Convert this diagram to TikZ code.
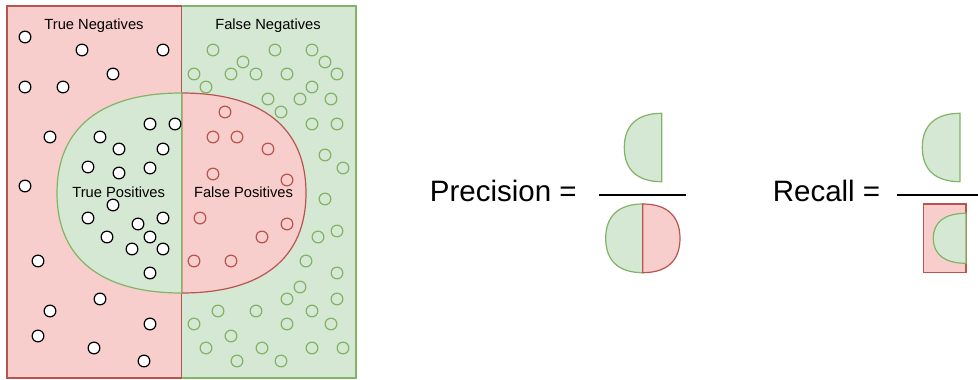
\documentclass[tikz,border=0pt]{standalone}
\usepackage{fontspec}
\setmainfont{Liberation Sans}
\definecolor{rfill}{HTML}{F8CECC}
\definecolor{rline}{HTML}{B85450}
\definecolor{gfill}{HTML}{D5E8D4}
\definecolor{gline}{HTML}{82B366}
% #1 style, #2 flat x, #3 curved x, #4 top y, #5 bottom y
\newcommand{\dshape}[5]{%
  \draw[#1] (#2,#4) .. controls ({#2+0.65*(#3-#2)},#4) and (#3,{#4+0.35*(#5-#4)/2}) .. (#3,{(#4+#5)/2})
    .. controls (#3,{#5-0.35*(#5-#4)/2}) and ({#2+0.65*(#3-#2)},#5) .. (#2,#5) -- cycle;}
\tikzset{
  redarea/.style={fill=rfill, draw=rline, line width=1.2pt},
  greenarea/.style={fill=gfill, draw=gline, line width=1.2pt},
  wdot/.style={circle, draw=black, fill=white, line width=1.2pt, minimum size=11.7pt, inner sep=0pt},
  gdot/.style={circle, draw=gline, line width=1.2pt, minimum size=11.7pt, inner sep=0pt},
  rdot/.style={circle, draw=rline, line width=1.2pt, minimum size=11.7pt, inner sep=0pt},
  lbl/.style={inner sep=0pt, anchor=base, font=\fontsize{14.7}{17}\selectfont},
  biglbl/.style={inner sep=0pt, anchor=base west, font=\fontsize{29.5}{35}\selectfont},
  fracline/.style={draw=black, line width=1.3pt}
}
\begin{document}
\begin{tikzpicture}[x=1pt,y=-1pt]
\useasboundingbox (0,0) rectangle (978,380);
% outer areas
\draw[greenarea] (181.7,6) rectangle (356,378);
\draw[redarea] (7,6) rectangle (181.7,378);
% inner shape
\dshape{redarea}{181.7}{306}{93}{293}
\dshape{greenarea}{181.7}{57}{93}{293}
% black/white dots
\foreach \p [count=\i] in {(25,37),(82,50),(163,50),(113,74),(25,87),(63,87),(50,137),(150,124),(175,124),(100,137),(119,149),(163,149),(88,167),(119,173),(150,168),(25,186),(113,205),(88,218),(138,224),(163,218),(107,237),(150,237),(132,249),(163,249),(38,261),(150,273),(100,299),(50,311),(150,324),(38,336),(94,348),(144,361)}
  \node[wdot] (w\i) at \p {};
% red dots
\foreach \p [count=\i] in {(225,112),(213,137),(237,137),(268,149),(213,174),(287,180),(200,218),(287,224),(262,237),(194,261),(231,261)}
  \node[rdot] (r\i) at \p {};
% green dots
\foreach \p [count=\i] in {(213,50),(275,50),(312,50),(243,62),(325,62),(194,74),(231,74),(256,74),(287,74),(337,74),(206,87),(312,87),(268,99),(300,99),(331,99),(281,112),(312,124),(337,124),(325,155),(343,168),(325,199),(318,237),(337,231),(306,261),(337,273),(300,287),(287,299),(337,299),(218,311),(256,311),(312,311),(194,324),(287,324),(331,324),(231,336),(206,348),(262,348),(312,348),(343,348),(237,361),(281,361)}
  \node[gdot] (g\i) at \p {};
% labels
\node[lbl] (tn) at (94,29.3) {True Negatives};
\node[lbl] (fn) at (268,29.3) {False Negatives};
\node[lbl] (tp) at (118.7,197.7) {True Positives};
\node[lbl] (fp) at (243.5,197.7) {False Positives};
% precision
\node[biglbl] (prec) at (429.7,201.7) {Precision =};
\dshape{greenarea}{661.7}{624.3}{113.3}{181.7}
\coordinate (pa) at (599.3,195);
\coordinate (pb) at (686,195);
\draw[fracline] (pa) -- (pb);
\dshape{greenarea}{642.7}{605.7}{204}{272.7}
\dshape{redarea}{642.7}{680}{204}{272.7}
% recall
\node[biglbl] (rec) at (772.6,201.7) {Recall =};
\dshape{greenarea}{960}{922.3}{113.3}{181.7}
\coordinate (ra) at (897.3,195);
\coordinate (rb) at (990,195);
\draw[fracline] (ra) -- (rb);
\draw[redarea] (923.3,204) rectangle (966,272.7);
\dshape{greenarea}{966}{933.3}{213.3}{263.3}
\end{tikzpicture}
\end{document}
